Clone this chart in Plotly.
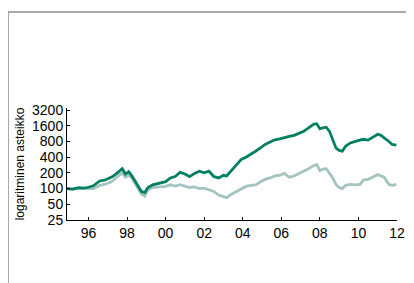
import plotly.graph_objects as go

green_dates = ["1994-11-20","1995-03-01","1995-07-01","1995-10-01","1996-01-01","1996-04-01","1996-08-01","1996-11-01",
"1997-02-01","1997-04-01","1997-07-01","1997-10-01","1997-12-01","1998-02-01","1998-04-01","1998-06-01","1998-08-01",
"1998-10-01","1998-12-01","1999-02-01","1999-05-01","1999-08-01","1999-11-01","2000-01-01","2000-04-01","2000-07-01",
"2000-10-01","2001-01-01","2001-04-01","2001-07-01","2001-10-01","2002-01-01","2002-04-01","2002-07-01","2002-10-01",
"2003-01-01","2003-03-01","2003-06-01","2003-09-01","2003-12-01","2004-03-01","2004-06-01","2004-09-01","2004-12-01",
"2005-03-01","2005-06-01","2005-09-01","2005-12-01","2006-03-01","2006-06-01","2006-09-01","2006-12-01","2007-03-01",
"2007-06-01","2007-09-01","2007-11-01","2008-01-01","2008-03-01","2008-05-01","2008-07-01","2008-09-01","2008-11-01",
"2009-01-01","2009-03-01","2009-05-01","2009-08-01","2009-11-01","2010-02-01","2010-04-01","2010-07-01","2010-10-01",
"2011-01-01","2011-03-01","2011-05-01","2011-08-01","2011-10-01","2011-12-20"]
green_values = [100,98,104,102,106,113,140,145,
160,170,200,240,190,210,175,140,110,
88,84,105,118,125,130,136,160,170,
205,190,170,195,215,200,215,170,160,
180,175,220,280,360,400,450,520,600,
700,780,860,900,960,1000,1050,1150,1250,
1450,1700,1750,1400,1450,1500,1250,900,600,
540,520,650,750,800,850,880,850,950,
1100,1050,950,800,700,680]

gray_dates = green_dates
gray_values = [100,97,100,100,103,100,115,120,
130,140,170,200,165,180,160,125,100,
78,72,95,105,108,110,110,118,112,
119,110,105,108,100,102,96,88,75,
70,67,78,88,100,110,115,118,135,
150,160,175,180,195,165,175,195,215,
240,275,290,220,235,240,200,160,120,
105,100,115,120,118,120,145,150,165,
185,175,165,120,115,120]

y_tick_vals = [25, 50, 100, 200, 400, 800, 1600, 3200]
y_tick_text = ["25", "50", "100", "200", "400", "800", "1600", "3200"]
x_tick_vals = ["1996-01-01","1998-01-01","2000-01-01","2002-01-01","2004-01-01","2006-01-01","2008-01-01","2010-01-01","2012-01-01"]
x_tick_text = ["96","98","00","02","04","06","08","10","12"]
y_title = "logaritminen asteikko"

fig = go.Figure()
fig.add_trace(go.Scatter(x=gray_dates, y=gray_values, mode="lines",
                         line=dict(color="#A3C4BF", width=2.8), showlegend=False))
fig.add_trace(go.Scatter(x=green_dates, y=green_values, mode="lines",
                         line=dict(color="#007F62", width=2.8), showlegend=False))

fig.update_layout(
    width=406, height=275,
    margin=dict(l=59, r=17, t=100, b=63),
    paper_bgcolor="white", plot_bgcolor="white",
    font=dict(family="Liberation Sans, Arial, sans-serif", color="black"),
    xaxis=dict(type="date", range=["1994-11-20", "2012-01-01"],
               tickvals=x_tick_vals, ticktext=x_tick_text,
               ticks="inside", ticklen=3, tickcolor="black",
               showline=True, linecolor="black", linewidth=1,
               showgrid=False, zeroline=False, tickfont=dict(size=14),
               automargin=False),
    yaxis=dict(type="log", range=[1.398, 3.544],
               tickvals=y_tick_vals, ticktext=y_tick_text,
               ticks="inside", ticklen=3, tickcolor="black",
               showline=True, linecolor="black", linewidth=1,
               showgrid=False, zeroline=False, tickfont=dict(size=14),
               automargin=False,
               title=dict(text=y_title, font=dict(size=12), standoff=4)),
    shapes=[
        dict(type="line", xref="paper", yref="paper", x0=-0.1788, x1=1.06, y0=1.857, y1=1.857,
             line=dict(color="#8C8C8C", width=1.5)),
        dict(type="line", xref="paper", yref="paper", x0=-0.1788, x1=-0.1788, y0=1.857, y1=-0.6,
             line=dict(color="#8C8C8C", width=1.5)),
    ],
)

fig.write_html("out.html")
